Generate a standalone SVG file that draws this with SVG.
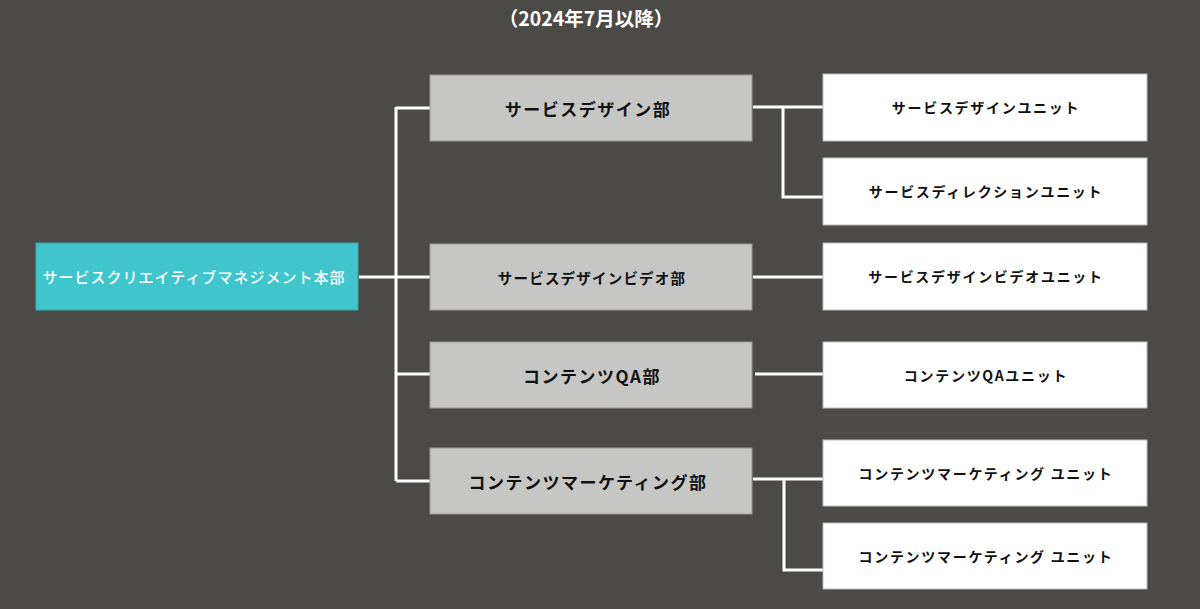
<svg xmlns="http://www.w3.org/2000/svg" width="1200" height="609" viewBox="0 0 1200 609">
<style>
text{font-family:"Noto Sans CJK JP","Noto Sans",sans-serif;text-anchor:middle;dominant-baseline:central}
.title{fill:#ffffff;font-size:19.5px;font-weight:bold}
.root rect{fill:#3fc5cb;stroke:#36a9ae;stroke-width:1}
.root text{fill:#ffffff;font-size:15px;font-weight:500;letter-spacing:1px}
.dept rect{fill:#c6c6c4;stroke:#9a9a98;stroke-width:1}
.dept text{fill:#111111;font-size:17px;font-weight:bold;letter-spacing:1.5px}
.dept text.sm{font-size:14.5px;letter-spacing:1.2px}
.unit rect{fill:#ffffff;stroke:#bdbdbd;stroke-width:1}
.unit text{fill:#111111;font-size:14px;font-weight:bold;letter-spacing:1.7px}
.conn path{fill:none;stroke:#ffffff;stroke-width:3}
</style>
<rect x="0" y="0" width="1200" height="609" fill="#4c4a46"/>
<text class="title" x="586" y="17">（2024年7月以降）</text>
<g class="conn">
<path d="M359 277H430"/>
<path d="M396 107V481"/>
<path d="M396 108H430"/>
<path d="M396 374H430"/>
<path d="M396 481H430"/>
<path d="M753 107H823"/>
<path d="M783 107V197H823"/>
<path d="M753 277H823"/>
<path d="M755 374H823"/>
<path d="M753 479H823"/>
<path d="M784 479V570H823"/>
</g>
<g id="root" class="root"><rect x="36" y="243" width="322" height="67"/><text x="194" y="276">サービスクリエイティブマネジメント本部</text></g>
<g id="dept1" class="dept"><rect x="430" y="75" width="322" height="66"/><text x="588" y="108">サービスデザイン部</text></g>
<g id="dept2" class="dept"><rect x="430" y="244" width="322" height="66"/><text class="sm" x="592" y="277">サービスデザインビデオ部</text></g>
<g id="dept3" class="dept"><rect x="430" y="342" width="322" height="66"/><text x="592" y="375">コンテンツQA部</text></g>
<g id="dept4" class="dept"><rect x="430" y="448" width="322" height="66"/><text x="588" y="481">コンテンツマーケティング部</text></g>
<g id="unit1" class="unit"><rect x="823" y="74" width="324" height="67"/><text x="986" y="107">サービスデザインユニット</text></g>
<g id="unit2" class="unit"><rect x="823" y="158" width="324" height="67"/><text x="986" y="191">サービスディレクションユニット</text></g>
<g id="unit3" class="unit"><rect x="823" y="243" width="324" height="67"/><text x="986" y="276">サービスデザインビデオユニット</text></g>
<g id="unit4" class="unit"><rect x="823" y="342" width="324" height="66"/><text x="986" y="375">コンテンツQAユニット</text></g>
<g id="unit5" class="unit"><rect x="823" y="440" width="324" height="66"/><text x="986" y="473">コンテンツマーケティング ユニット</text></g>
<g id="unit6" class="unit"><rect x="823" y="523" width="324" height="66"/><text x="986" y="556">コンテンツマーケティング ユニット</text></g>
</svg>
